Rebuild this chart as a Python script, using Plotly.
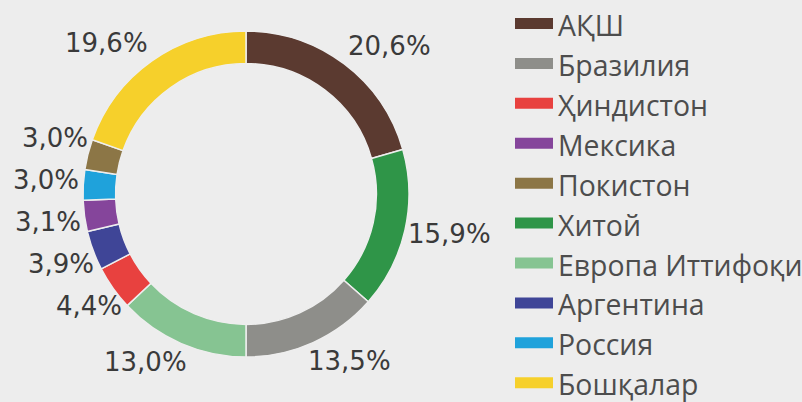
import math
import plotly.graph_objects as go

# slices, clockwise from 12 o'clock
slice_labels = ["АҚШ", "Хитой", "Бразилия", "Европа Иттифоқи", "Ҳиндистон",
                "Аргентина", "Мексика", "Россия", "Покистон", "Бошқалар"]
slice_values = [20.6, 15.9, 13.5, 13.0, 4.4, 3.9, 3.1, 3.0, 3.0, 19.6]
slice_text = ["20,6%", "15,9%", "13,5%", "13,0%", "4,4%",
              "3,9%", "3,1%", "3,0%", "3,0%", "19,6%"]

# legend order
legend_labels = ["АҚШ", "Бразилия", "Ҳиндистон", "Мексика", "Покистон",
                 "Хитой", "Европа Иттифоқи", "Аргентина", "Россия", "Бошқалар"]

colors = {
    "АҚШ": "#5b3a30",
    "Хитой": "#2f9548",
    "Бразилия": "#8e8e8a",
    "Европа Иттифоқи": "#86c492",
    "Ҳиндистон": "#e8413f",
    "Аргентина": "#3f4597",
    "Мексика": "#85459b",
    "Россия": "#1fa2db",
    "Покистон": "#8c7646",
    "Бошқалар": "#f6d02b",
}

W, H = 802, 402
CX, CY, R = 246, 194, 163  # donut centre / outer radius in px

fig = go.Figure()
fig.add_trace(go.Pie(
    labels=slice_labels,
    values=slice_values,
    sort=False,
    direction="clockwise",
    rotation=0,
    hole=0.8,
    textinfo="none",
    hoverinfo="label+percent",
    marker=dict(colors=[colors[l] for l in slice_labels],
                line=dict(color="#eeeeee", width=1.5)),
    showlegend=False,
    domain=dict(x=[(CX - R) / W, (CX + R) / W],
                y=[1 - (CY + R) / H, 1 - (CY - R) / H]),
))

# legend entries in the reference order
for lab in legend_labels:
    fig.add_trace(go.Scatter(
        x=[None], y=[None], mode="lines", name=lab,
        fill="toself", fillcolor=colors[lab],
        line=dict(color=colors[lab], width=10),
        hoverinfo="skip",
    ))

# percentage labels outside the ring at each slice's mid-angle
FS = 26
RG, HH, GAP, SIDE_GAP = 170, 12, 42, 5
total = sum(slice_values)


def g(x):
    return math.copysign(min(1.0, abs(x) * 2), x)


cum = 0.0
labs = []
for v, t in zip(slice_values, slice_text):
    a = (cum + v / 2) / total * 2 * math.pi
    cum += v
    s, c = math.sin(a), math.cos(a)
    hw = 8.2 * len(t)
    side_mode = abs(c) < 0.6
    if side_mode:
        py = CY - (RG + HH) * c
    else:
        py = CY - RG * c - HH * g(c)
    labs.append(dict(t=t, hw=hw, side=(-1 if s < 0 else 1), py=py,
                     s=s, c=c, side_mode=side_mode))

# spread crowded side labels apart vertically
for side in (-1, 1):
    grp = sorted([l for l in labs if l["side"] == side and l["side_mode"]],
                 key=lambda l: l["py"])
    for _ in range(200):
        moved = False
        for i in range(1, len(grp)):
            d = grp[i]["py"] - grp[i - 1]["py"]
            if d < GAP - 1e-6:
                sh = (GAP - d) / 2
                grp[i]["py"] += sh
                grp[i - 1]["py"] -= sh
                moved = True
        if not moved:
            break

annotations = []
for l in labs:
    if l["side_mode"]:
        dy = l["py"] - CY
        ring_dx = math.sqrt(max(R * R - dy * dy, 0.0))
        px = CX + l["side"] * (ring_dx + SIDE_GAP + l["hw"])
    else:
        px = CX + RG * l["s"] + l["hw"] * g(l["s"])
    annotations.append(dict(
        x=px / W, y=1 - l["py"] / H, xref="paper", yref="paper",
        text=l["t"], showarrow=False, xanchor="center", yanchor="middle",
        font=dict(family="DejaVu Sans", size=FS, color="#3a3a3a"),
    ))

fig.update_layout(
    width=W, height=H,
    margin=dict(l=0, r=0, t=0, b=0, autoexpand=False),
    paper_bgcolor="#ededed",
    plot_bgcolor="#ededed",
    xaxis=dict(visible=False),
    yaxis=dict(visible=False),
    annotations=annotations,
    showlegend=True,
    legend=dict(
        x=510 / W, y=1.0, xanchor="left", yanchor="top",
        font=dict(family="Open Sans", size=28.4, color="#4d4d4d"),
        bgcolor="rgba(0,0,0,0)",
        itemwidth=38,
        maxheight=460,
    ),
)

fig.write_html("out.html",
               config={"displayModeBar": False},
               post_script="document.body.style.margin='0';document.body.style.overflow='hidden';")
